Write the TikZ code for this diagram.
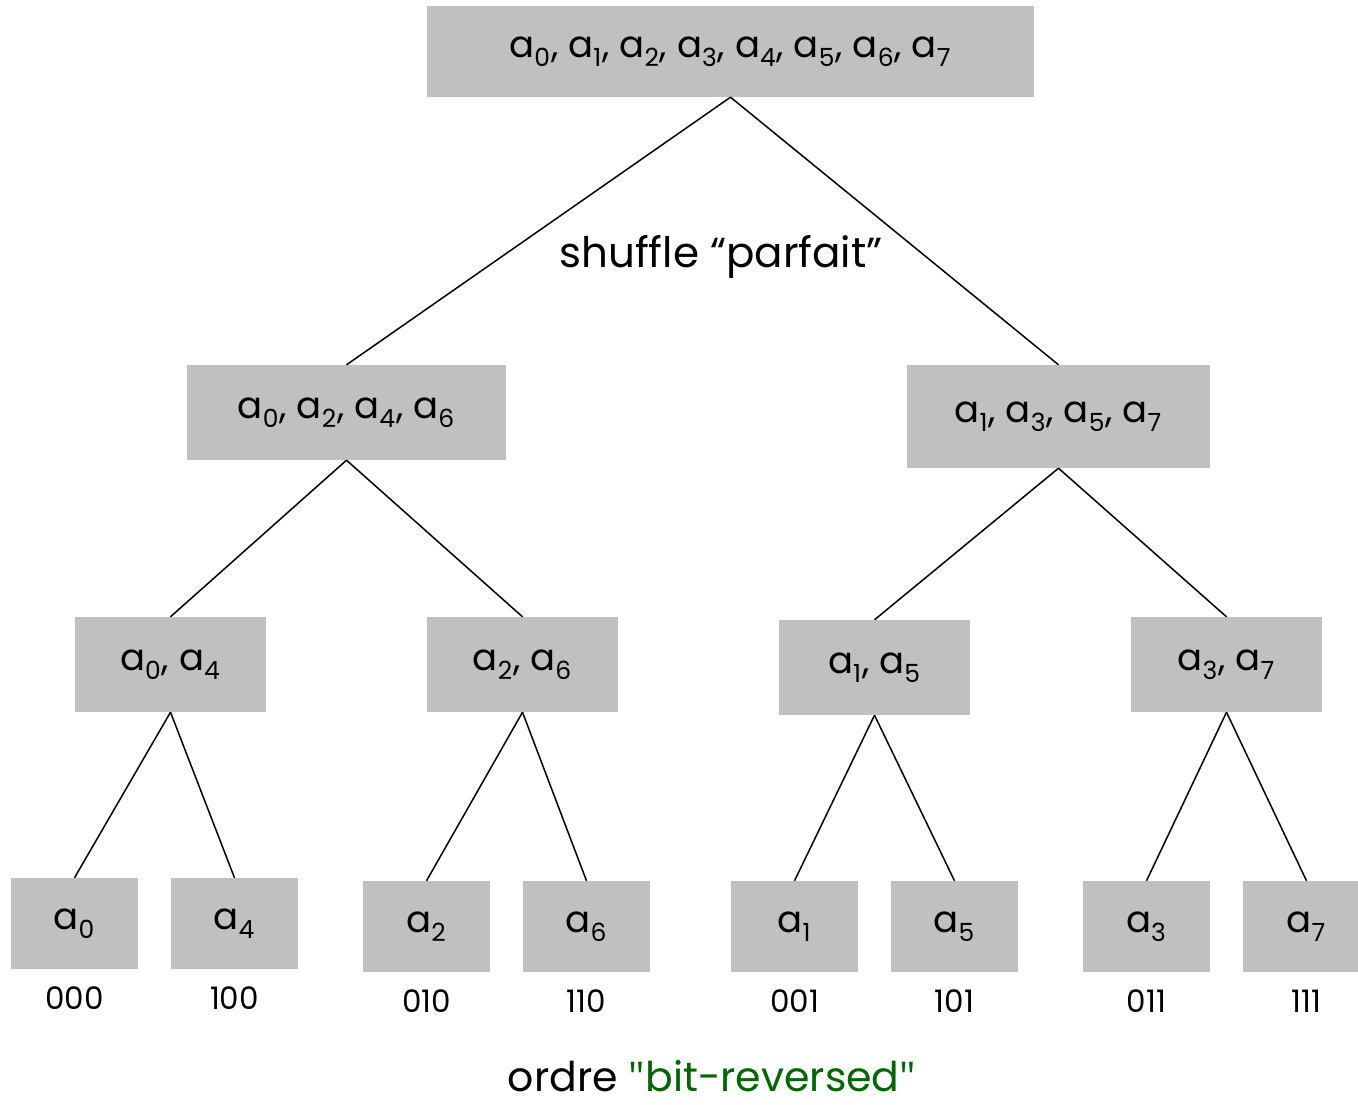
\documentclass[tikz,border=0pt]{standalone}
\usepackage{fontspec}
\setmainfont{Poppins}
\newfontfamily\quotefont{Open Sans}
\definecolor{boxgray}{RGB}{192,192,192}
\definecolor{dkgreen}{RGB}{0,102,0}
\newcommand\ix[1]{\raisebox{-0.24em}{\fontsize{25}{25}\selectfont #1}\kern1pt}
\newcommand\sq{{\quotefont\symbol{34}}}
\tikzset{
  box/.style={rectangle, fill=boxgray, inner sep=0pt, font=\fontsize{37}{37}\selectfont},
  lbl/.style={inner sep=0pt, anchor=base, font=\fontsize{31}{31}\selectfont},
  edge/.style={line width=1.5pt, black},
}
\begin{document}
\begin{tikzpicture}[x=1pt,y=-1pt]
\useasboundingbox (0,0) rectangle (1358,1104);
\node[box, minimum width=607pt, minimum height=91pt] (top) at (730.5,51.5) {a\ix{0}, a\ix{1}, a\ix{2}, a\ix{3}, a\ix{4}, a\ix{5}, a\ix{6}, a\ix{7}};
\node[box, minimum width=319pt, minimum height=95pt] (ml) at (346.5,412.5) {a\ix{0}, a\ix{2}, a\ix{4}, a\ix{6}};
\node[box, minimum width=303pt, minimum height=103pt] (mr) at (1058.5,416.5) {a\ix{1}, a\ix{3}, a\ix{5}, a\ix{7}};
\node[box, minimum width=191pt, minimum height=95pt] (q04) at (170.5,664.5) {a\ix{0}, a\ix{4}};
\node[box, minimum width=191pt, minimum height=95pt] (q26) at (522.5,664.5) {a\ix{2}, a\ix{6}};
\node[box, minimum width=191pt, minimum height=95pt] (q15) at (874.5,667.5) {a\ix{1}, a\ix{5}};
\node[box, minimum width=191pt, minimum height=95pt] (q37) at (1226.5,664.5) {a\ix{3}, a\ix{7}};
\node[box, minimum width=127pt, minimum height=91pt] (l0) at (74.5,923.5) {a\ix{0}};
\node[box, minimum width=127pt, minimum height=91pt] (l4) at (234.5,923.5) {a\ix{4}};
\node[box, minimum width=127pt, minimum height=91pt] (l2) at (426.5,926.5) {a\ix{2}};
\node[box, minimum width=127pt, minimum height=91pt] (l6) at (586.5,926.5) {a\ix{6}};
\node[box, minimum width=127pt, minimum height=91pt] (l1) at (794.5,926.5) {a\ix{1}};
\node[box, minimum width=127pt, minimum height=91pt] (l5) at (954.5,926.5) {a\ix{5}};
\node[box, minimum width=127pt, minimum height=91pt] (l3) at (1146.5,926.5) {a\ix{3}};
\node[box, minimum width=127pt, minimum height=91pt] (l7) at (1306.5,926.5) {a\ix{7}};
\node[lbl] (b0) at (74.5,1009) {000};
\node[lbl] (b4) at (234.5,1009) {100};
\node[lbl] (b2) at (426.5,1012) {010};
\node[lbl] (b6) at (586.5,1012) {110};
\node[lbl] (b1) at (794.5,1012) {001};
\node[lbl] (b5) at (954.5,1012) {101};
\node[lbl] (b3) at (1146.5,1012) {011};
\node[lbl] (b7) at (1306.5,1012) {111};
\draw[edge] (top.south) -- (ml.north);
\draw[edge] (top.south) -- (mr.north);
\draw[edge] (ml.south) -- (q04.north);
\draw[edge] (ml.south) -- (q26.north);
\draw[edge] (mr.south) -- (q15.north);
\draw[edge] (mr.south) -- (q37.north);
\draw[edge] (q04.south) -- (l0.north);
\draw[edge] (q04.south) -- (l4.north);
\draw[edge] (q26.south) -- (l2.north);
\draw[edge] (q26.south) -- (l6.north);
\draw[edge] (q15.south) -- (l1.north);
\draw[edge] (q15.south) -- (l5.north);
\draw[edge] (q37.south) -- (l3.north);
\draw[edge] (q37.south) -- (l7.north);
\node[lbl, font=\fontsize{42}{42}\selectfont] (shuf) at (721,267) {shuffle “parfait”};
\node[lbl, font=\fontsize{41}{41}\selectfont] (ordre) at (712,1091) {ordre \textcolor{dkgreen}{\sq bit-reversed\sq}};
\end{tikzpicture}
\end{document}
